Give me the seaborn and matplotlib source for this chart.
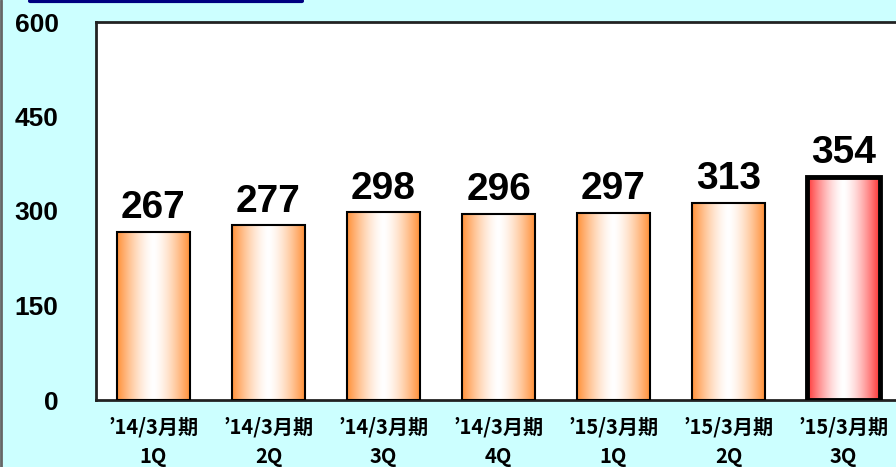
import numpy as np
import pandas as pd
import seaborn as sns
import matplotlib.pyplot as plt
from matplotlib.colors import to_rgb
from matplotlib.lines import Line2D

# data
periods = ['’14/3月期', '’14/3月期', '’14/3月期', '’14/3月期', '’15/3月期', '’15/3月期', '’15/3月期']
quarters = ['1Q', '2Q', '3Q', '4Q', '1Q', '2Q', '3Q']
values = [267, 277, 298, 296, 297, 313, 354]
y_ticks = [0, 150, 300, 450, 600]

labels = [f'{p}\n{q}' for p, q in zip(periods, quarters)]
df = pd.DataFrame({'label': labels, 'value': values})

sns.set_theme(style='white')
plt.rcParams['font.family'] = ['Liberation Sans', 'Noto Sans CJK JP', 'DejaVu Sans']

bg = '#CCFFFF'
fig = plt.figure(figsize=(8.96, 4.67), dpi=100, facecolor=bg)
ax = fig.add_axes([96 / 896, 67 / 467, 805 / 896, 378 / 467])
ax.set_facecolor('white')

sns.barplot(data=df, x='label', y='value', width=0.63, ax=ax,
            color='white', edgecolor='black', linewidth=1.5, zorder=3)


def gradient(edge_color, n=256):
    c = np.array(to_rgb(edge_color))
    t = np.abs(np.linspace(-1, 1, n))
    mix = np.clip(t ** 1.5, 0, 1)[:, None]
    img = (1 - mix) * np.ones(3) + mix * c
    return img[None, :, :]


n = len(values)
for i, patch in enumerate(ax.patches[:n]):
    last = i == n - 1
    col = '#FF3333' if last else '#FF9038'
    x0, y0 = patch.get_x(), patch.get_y()
    w, h = patch.get_width(), patch.get_height()
    im = ax.imshow(gradient(col), extent=[x0, x0 + w, y0, y0 + h],
                   aspect='auto', zorder=2, interpolation='bilinear')
    im.set_clip_path(patch)
    patch.set_facecolor('none')
    if last:
        patch.set_linewidth(3.5)

ax.bar_label(ax.containers[0], labels=[str(v) for v in values], padding=4,
             fontsize=28, fontweight='bold', color='black')

ax.set_xlim(-0.5, n - 0.5)
ax.set_ylim(0, 600)
ax.set_yticks(y_ticks)
ax.set_xlabel('')
ax.set_ylabel('')

ax.tick_params(axis='y', direction='in', length=8, width=1, color='black',
               pad=27, labelsize=19)
ax.tick_params(axis='x', length=0, pad=12)
for t in ax.get_yticklabels():
    t.set_fontweight('bold')
    t.set_color('black')
for t in ax.get_xticklabels():
    t.set_fontfamily(['Noto Sans CJK JP', 'DejaVu Sans'])
    t.set_fontsize(14.5)
    t.set_fontweight('bold')
    t.set_color('black')
    t.set_linespacing(1.5)

for s in ax.spines.values():
    s.set_color('#222222')
    s.set_linewidth(2)

fig.add_artist(Line2D([30 / 896, 302 / 896], [466 / 467, 466 / 467], color='#000080', linewidth=3))
fig.add_artist(Line2D([0.5 / 896, 0.5 / 896], [0, 1], color='#666666', linewidth=2))

fig.savefig('out.png', dpi=100, facecolor=bg)
